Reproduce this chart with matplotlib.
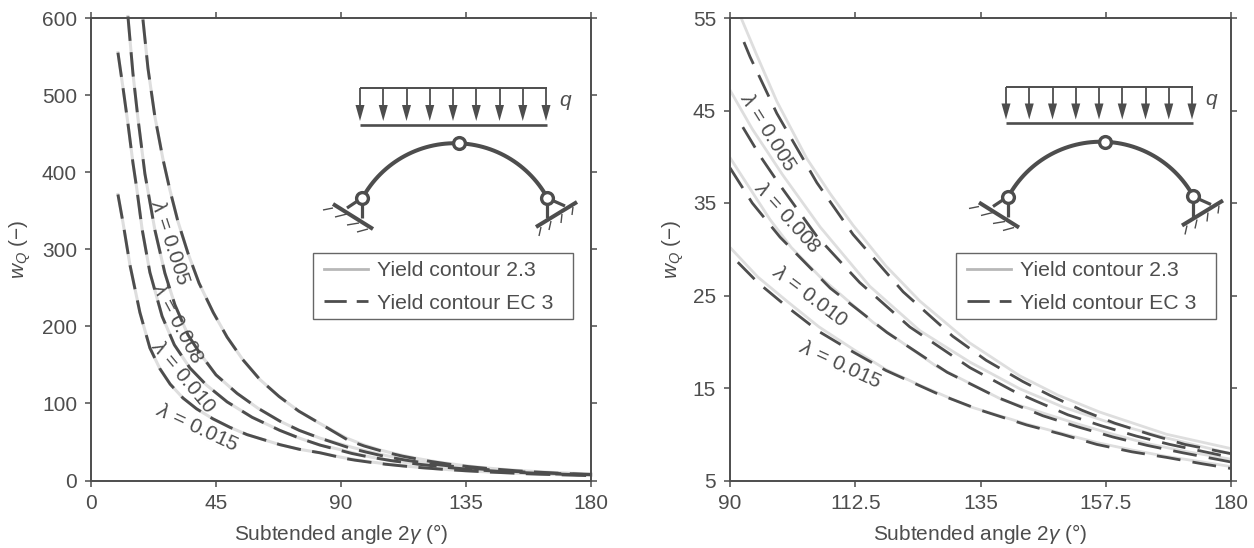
import numpy as np
import matplotlib
matplotlib.use("Agg")
import matplotlib.pyplot as plt
from matplotlib.patches import Polygon, Rectangle

plt.rcParams['font.family'] = ['Liberation Sans', 'DejaVu Sans']
plt.rcParams['mathtext.fontset'] = 'custom'
plt.rcParams['mathtext.rm'] = 'Liberation Sans'
plt.rcParams['mathtext.it'] = 'Liberation Sans:italic'

DARK = '#4d4d4d'
LIGHT = '#dedede'
W, H = 1254, 548

# low angle part, both yield contours coincide here
low_x_005 = [18.7, 20.5, 23, 25.9, 28.4, 31.3, 34.9, 38.9, 44, 49, 54.6, 60.8, 67.7, 74.8, 82.4]
low_y_005 = [598, 535, 472, 417, 377, 336, 295, 256, 218, 186, 157, 131, 109, 90, 74]
low_x_008 = [13.3, 15.1, 16.9, 19.4, 23, 26.6, 30.2, 34.9, 39.2, 45, 52.6, 60, 68, 75, 82.4]
low_y_008 = [602, 528, 470, 398, 325, 269, 228, 189, 165, 137, 113, 94, 77, 65, 55]
low_x_010 = [9.7, 11.5, 13.3, 15.1, 16.5, 18.4, 21.2, 25.6, 30, 35.6, 41.5, 49, 58, 68, 75, 82.4]
low_y_010 = [555, 510, 463, 412, 378, 326, 270, 213, 176, 146, 124, 102, 82, 65, 55, 46]
low_x_015 = [9.7, 11.5, 14, 17.6, 21.2, 24.8, 28.5, 33.1, 38, 43.9, 50, 56.2, 68, 75, 82.4]
low_y_015 = [371, 335, 280, 218, 172, 145, 125, 107, 93, 80, 69, 59.5, 46.5, 40.5, 36]

# 90 to 180 degrees, yield contour 2.3
ang_23_005 = [92, 94.8, 98.4, 103.8, 108, 112.1, 118, 124.1, 133, 142.1, 149, 156.4, 168.4, 180]
w_23_005 = [55, 51, 46, 39.8, 36, 32.6, 28.2, 24.4, 19.9, 16.3, 14.2, 12.4, 10, 8.45]
ang_23_008 = [90, 94, 99.5, 106.2, 115.1, 124.1, 133.1, 142.1, 150, 157.5, 168.4, 180]
w_23_008 = [47.2, 43, 38, 32.4, 26, 21.2, 17.8, 14.9, 12.9, 11.4, 9.6, 7.9]
ang_23_010 = [90, 97.2, 101, 106.2, 115.7, 127.2, 139, 146.2, 152.5, 158.8, 164.9, 171.3, 180]
w_23_010 = [39.9, 33.2, 30.2, 27, 22.1, 17.3, 13.7, 12.3, 11.1, 10, 9, 8.2, 7.3]
ang_23_015 = [90, 95, 100.2, 106, 112.1, 118, 124.1, 133, 143.3, 149.6, 155.9, 162.2, 168.4, 174.9, 180]
w_23_015 = [30.2, 27, 24.4, 21.6, 19.2, 17, 15.3, 13, 11.1, 10.1, 9.1, 8.3, 7.6, 7, 6.5]

# 90 to 180 degrees, yield contour EC 3
ang_ec_005 = [92.5, 93.6, 98.4, 105.6, 112.1, 121.1, 130, 136, 142.6, 147.5, 153.2, 159.1, 165.4, 171.7, 180]
w_ec_005 = [52.4, 50.8, 44.7, 37.2, 31.6, 25.4, 20.6, 18, 15.7, 14.2, 12.6, 11.2, 10, 8.9, 7.9]
ang_ec_008 = [92.3, 95.5, 99, 105.6, 113.3, 122.3, 133.1, 140.8, 144.9, 150.7, 156.8, 163, 169, 180]
w_ec_008 = [43.2, 40, 36.9, 31.4, 26.4, 21.6, 17.2, 14.7, 13.6, 12.1, 10.9, 9.8, 8.9, 7.5]
ang_ec_010 = [90, 94, 99, 108, 118.2, 129, 138, 146.2, 152.5, 158.8, 164.9, 171.3, 180]
w_ec_010 = [38.8, 35, 31.3, 25.8, 21, 16.7, 14, 12, 10.8, 9.7, 8.8, 8, 7]
ang_ec_015 = [91.4, 95, 100.2, 106, 112.1, 118, 127.2, 135, 143.3, 149.6, 155.9, 162.2, 168.4, 174.9, 180]
w_ec_015 = [28.6, 26.4, 23.8, 21.1, 18.9, 16.9, 14.4, 12.6, 11, 10, 8.9, 8.1, 7.5, 6.8, 6.3]

left_xticks = [0, 45, 90, 135, 180]
left_yticks = [0, 100, 200, 300, 400, 500, 600]
right_xticks = [90, 112.5, 135, 157.5, 180]
right_xlabels = ['90', '112.5', '135', '157.5', '180']
right_yticks = [5, 15, 25, 35, 45, 55]

lambdas = ['0.005', '0.008', '0.010', '0.015']
left_label_pos = [(28.4, 309, -72), (31, 204, -62), (33.1, 134, -50), (38.2, 68, -25)]
right_label_pos = [(96.8, 42.6, -58), (100.2, 33.4, -48), (104.4, 24.9, -37), (109.8, 17.5, -25)]


def px(x, y):
    return x / W, 1 - y / H


def draw_scheme(ax, dx, dy):
    tr = ax.figure.transFigure

    def seg(x0, y0, x1, y1, lw):
        a, b = px(x0 + dx, y0 + dy), px(x1 + dx, y1 + dy)
        ax.plot([a[0], b[0]], [a[1], b[1]], color=DARK, lw=lw, transform=tr,
                clip_on=False, solid_capstyle='butt', zorder=6)

    # load
    seg(360, 88, 547, 88, 1.4)
    seg(360, 124.5, 547, 124.5, 1.9)
    for x in np.linspace(360, 546, 9):
        seg(x, 88, x, 108, 1.3)
        head = [px(x - 4.5 + dx, 105 + dy), px(x + 4.5 + dx, 105 + dy), px(x + dx, 121 + dy)]
        ax.add_patch(Polygon(head, closed=True, fc=DARK, ec='none', transform=tr,
                             clip_on=False, zorder=6))
    xq, yq = px(566 + dx, 103 + dy)
    ax.text(xq, yq, '$q$', transform=tr, fontsize=15, color=DARK, ha='center', va='center')

    # arch through the three hinges
    p1, p2, p3 = np.array([362.3, 198.3]), np.array([459, 143.3]), np.array([547.3, 197.7])
    A = 2 * np.array([p2 - p1, p3 - p1])
    b = np.array([p2 @ p2 - p1 @ p1, p3 @ p3 - p1 @ p1])
    c = np.linalg.solve(A, b)
    r = np.linalg.norm(p1 - c)
    t0 = np.arctan2(*(p1 - c)[::-1])
    t1 = np.arctan2(*(p3 - c)[::-1])
    t = np.linspace(t0, t1, 60)
    arc = [px(c[0] + r * np.cos(v) + dx, c[1] + r * np.sin(v) + dy) for v in t]
    ax.plot([q[0] for q in arc], [q[1] for q in arc], color=DARK, lw=2.9,
            transform=tr, clip_on=False, zorder=6)

    # supports
    seg(333, 204, 373, 229, 2.9)
    seg(362, 198, 362, 218, 2.3)
    seg(362, 198, 347, 208, 2.3)
    seg(577, 202, 536, 227, 2.9)
    seg(547, 198, 547, 218, 2.3)
    seg(547, 198, 565, 206, 2.3)
    for h in [(333, 208, 323, 210), (347, 214, 335, 217), (359, 223, 347, 225), (368, 229, 357, 232)]:
        seg(*h, 1.0)
    for h in [(573, 207, 572, 215), (562, 214, 561, 223), (551, 221, 549, 230), (541, 227, 539, 236)]:
        seg(*h, 1.0)

    # hinges
    for p in (p1, p2, p3):
        xy = px(p[0] + dx, p[1] + dy)
        ax.plot(xy[0], xy[1], 'o', ms=8.5, mfc='white', mec=DARK, mew=2.4, transform=tr,
                clip_on=False, zorder=7)


def style_axes(ax, xticks, yticks, ylabel_x):
    ax.set_xticks(xticks)
    ax.set_yticks(yticks)
    ax.tick_params(direction='out', length=4.5, width=1.1, color=DARK, labelcolor=DARK,
                   labelsize=15, top=True, right=True)
    ax.tick_params(axis='x', pad=5)
    ax.tick_params(axis='y', pad=5.5)
    for s in ax.spines.values():
        s.set_color(DARK)
        s.set_linewidth(1.4)
    ax.set_xlabel(r'Subtended angle 2$\gamma$ ($\degree$)', fontsize=15, color=DARK, labelpad=7)
    ax.set_ylabel(r'$w_Q$ (−)', fontsize=15, color=DARK, va='center')
    ax.yaxis.set_label_coords(ylabel_x, 0.5)


fig = plt.figure(figsize=(W / 100, H / 100), dpi=100)
ax1 = fig.add_axes([91 / W, 1 - 480.5 / H, 500 / W, 462.5 / H])
ax2 = fig.add_axes([730 / W, 1 - 480.5 / H, 501 / W, 462.5 / H])

lows = [(low_x_005, low_y_005), (low_x_008, low_y_008), (low_x_010, low_y_010), (low_x_015, low_y_015)]
c23 = [(ang_23_005, w_23_005), (ang_23_008, w_23_008), (ang_23_010, w_23_010), (ang_23_015, w_23_015)]
cec = [(ang_ec_005, w_ec_005), (ang_ec_008, w_ec_008), (ang_ec_010, w_ec_010), (ang_ec_015, w_ec_015)]

for i in range(4):
    lx, ly = lows[i]
    ax1.plot(lx + c23[i][0], ly + c23[i][1], color=LIGHT, lw=2.2, zorder=2, clip_on=False)
    ax1.plot(lx + cec[i][0], ly + cec[i][1], color=DARK, lw=2.1, dashes=(8.4, 3.9), zorder=3, clip_on=False)
    ax2.plot(c23[i][0], c23[i][1], color=LIGHT, lw=2.0, zorder=2)
    ax2.plot(cec[i][0], cec[i][1], color=DARK, lw=2.0, dashes=(8.6, 4.4), zorder=3)

for ax, pos in ((ax1, left_label_pos), (ax2, right_label_pos)):
    for lam, (x, y, rot) in zip(lambdas, pos):
        ax.text(x, y, r'$\lambda$ = ' + lam, rotation=rot, rotation_mode='anchor', ha='center',
                va='center', fontsize=15, color=DARK, zorder=5)

ax1.set_xlim(0, 180)
ax1.set_ylim(0, 600)
ax2.set_xlim(90, 180)
ax2.set_ylim(5, 55)
style_axes(ax1, left_xticks, left_yticks, -0.142)
style_axes(ax2, right_xticks, right_yticks, -0.114)
ax2.set_xticklabels(right_xlabels)

for ax, dx, dy, lx0 in ((ax1, 0, 0, 313), (ax2, 646, -1.5, 956)):
    draw_scheme(ax, dx, dy)
    x0, y0 = px(lx0, 319)
    ax.add_patch(Rectangle((x0, y0), 260 / W, 66 / H, transform=fig.transFigure, fc='white',
                           ec='#666666', lw=1.0, clip_on=False, zorder=7))
    h1, = ax.plot([], [], color='#b8b8b8', lw=2.0)
    h2, = ax.plot([], [], color=DARK, lw=2.0, dashes=(8, 3.6))
    leg = ax.legend([h1, h2], ['Yield contour 2.3', 'Yield contour EC 3'], loc='upper left',
                    bbox_to_anchor=px(lx0, 250), bbox_transform=fig.transFigure, borderaxespad=0,
                    fontsize=15.3, frameon=False, handlelength=2.05, handletextpad=0.42,
                    labelspacing=0.62, borderpad=0.54, labelcolor=DARK)
    leg.set_zorder(8)

fig.savefig('out.png', dpi=100)
